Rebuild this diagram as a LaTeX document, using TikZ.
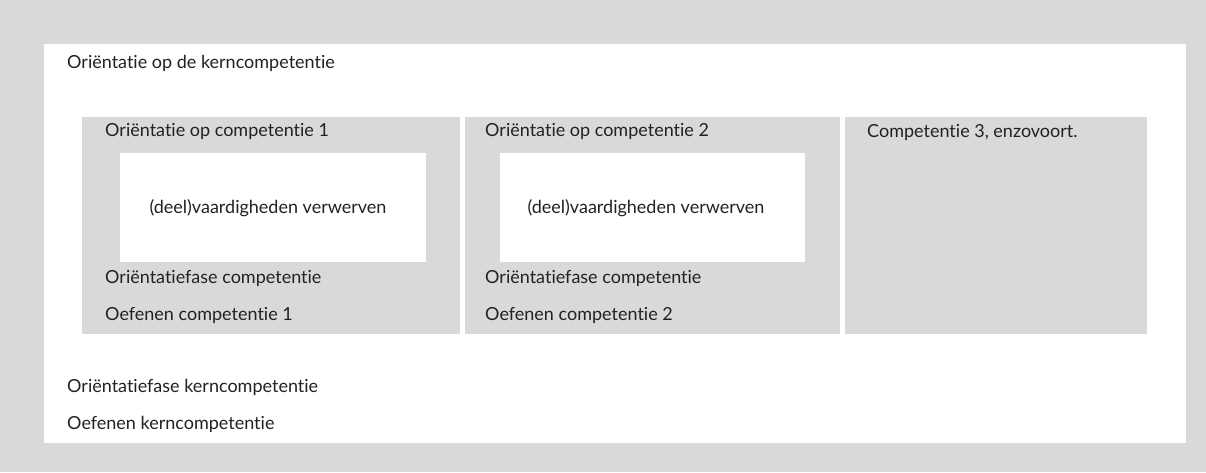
\documentclass[tikz,border=0pt]{standalone}
\usepackage{fontspec}
\setmainfont[Ligatures=NoCommon]{Lato}
\definecolor{bggray}{HTML}{D9D9D9}
\definecolor{txt}{HTML}{222222}
\begin{document}
\begin{tikzpicture}[x=1pt,y=-1pt,
  graybox/.style={fill=bggray,draw=none},
  whitebox/.style={fill=white,draw=none},
  lbl/.style={anchor=base west,inner sep=0pt,font=\fontsize{18}{20}\selectfont,text=txt}]
\fill[bggray] (0,0) rectangle (1206,472);
\useasboundingbox (0,0) rectangle (1206,472);
\path[whitebox] (44,44) rectangle (1186,443);
\path[graybox] (82,117) rectangle (460,334);
\path[graybox] (465,117) rectangle (840,334);
\path[graybox] (845,117) rectangle (1147,334);
\path[whitebox] (120,153) rectangle (426,262);
\path[whitebox] (500,153) rectangle (805,262);
\node[lbl] (kern) at (67,68) {Oriëntatie op de kerncompetentie};
\node[lbl] (oc1) at (105,136) {Oriëntatie op competentie 1};
\node[lbl,anchor=base] (dv1) at (268,213) {(deel)vaardigheden verwerven};
\node[lbl] (of1) at (105,283) {Oriëntatiefase competentie};
\node[lbl] (oe1) at (105,320) {Oefenen competentie 1};
\node[lbl] (oc2) at (485,136) {Oriëntatie op competentie 2};
\node[lbl,anchor=base] (dv2) at (646,213) {(deel)vaardigheden verwerven};
\node[lbl] (of2) at (485,283) {Oriëntatiefase competentie};
\node[lbl] (oe2) at (485,320) {Oefenen competentie 2};
\node[lbl] (c3) at (867,137) {Competentie 3, enzovoort.};
\node[lbl] (ofk) at (67,392) {Oriëntatiefase kerncompetentie};
\node[lbl] (oek) at (67,429) {Oefenen kerncompetentie};
\end{tikzpicture}
\end{document}
